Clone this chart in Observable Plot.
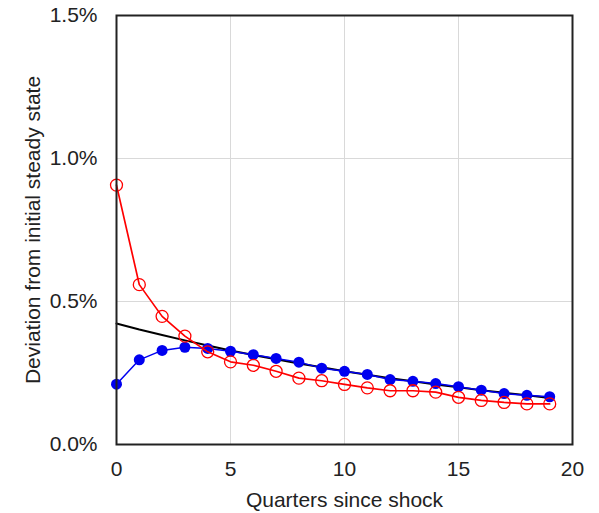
<!DOCTYPE html>
<html>
<head>
<meta charset="utf-8">
<script src="https://cdn.jsdelivr.net/npm/d3@7"></script>
<script src="https://cdn.jsdelivr.net/npm/@observablehq/plot@0.6"></script>
<style>
  html, body { margin: 0; padding: 0; background: #fff; }
</style>
</head>
<body>
<div id="chart"></div>
<script>
const quarters = [0,1,2,3,4,5,6,7,8,9,10,11,12,13,14,15,16,17,18,19];
const redSeries = [0.907,0.559,0.448,0.379,0.324,0.289,0.277,0.256,0.232,0.223,0.210,0.198,0.188,0.188,0.183,0.165,0.154,0.147,0.142,0.142];
const blueSeries = [0.211,0.296,0.329,0.340,0.336,0.326,0.314,0.301,0.288,0.267,0.256,0.245,0.227,0.221,0.213,0.202,0.190,0.178,0.172,0.167];
const blackSeries = [0.423,0.402,0.383,0.364,0.346,0.329,0.313,0.298,0.283,0.270,0.256,0.244,0.232,0.221,0.210,0.200,0.190,0.181,0.172,0.163];
const xTicks = [0,5,10,15,20];
const yTicks = [0,0.5,1.0,1.5];
const xGrid = [5,10,15];
const yGrid = [0.5,1.0];
const xLabel = "Quarters since shock";
const yLabel = "Deviation from initial steady state";

const red = quarters.map((q,i) => ({q, v: redSeries[i]}));
const blue = quarters.map((q,i) => ({q, v: blueSeries[i]}));
const black = quarters.map((q,i) => ({q, v: blackSeries[i]}));

const chart = Plot.plot({
  width: 599,
  height: 513,
  marginLeft: 116,
  marginRight: 27,
  marginTop: 15,
  marginBottom: 69,
  style: {fontFamily: "'Liberation Sans', Arial, sans-serif", fontSize: "21px", color: "#222", background: "#fff"},
  x: {domain: [0,20]},
  y: {domain: [0,1.5]},
  marks: [
    Plot.ruleX(xGrid, {stroke: "#d9d9d9", strokeWidth: 1}),
    Plot.ruleY(yGrid, {stroke: "#d9d9d9", strokeWidth: 1}),
    Plot.axisX({ticks: xTicks, tickSize: 0, tickPadding: 17, fontSize: 21, fill: "#222", label: null}),
    Plot.axisY({ticks: yTicks, tickSize: 0, tickPadding: 19, fontSize: 21, fill: "#222",
      tickFormat: d => d.toFixed(1) + "%", label: null}),
    Plot.text([xLabel], {frameAnchor: "bottom", text: d => d, dy: 56, lineAnchor: "middle", textAnchor: "middle", fontSize: 21, fill: "#222"}),
    Plot.text([yLabel], {frameAnchor: "left", text: d => d, dx: -83, rotate: -90, lineAnchor: "middle", textAnchor: "middle", fontSize: 21, fill: "#222"}),
    Plot.line(black, {x: "q", y: "v", stroke: "#000", strokeWidth: 2}),
    Plot.line(blue, {x: "q", y: "v", stroke: "#0000f0", strokeWidth: 1.5}),
    Plot.dot(blue, {x: "q", y: "v", fill: "#0000f0", r: 5.5}),
    Plot.line(red, {x: "q", y: "v", stroke: "#ff0000", strokeWidth: 1.7}),
    Plot.dot(red, {x: "q", y: "v", stroke: "#ff0000", fill: "none", r: 6, strokeWidth: 1.3}),
    Plot.frame({stroke: "#222", strokeWidth: 2})
  ]
});
document.getElementById("chart").appendChild(chart);
</script>
</body>
</html>
